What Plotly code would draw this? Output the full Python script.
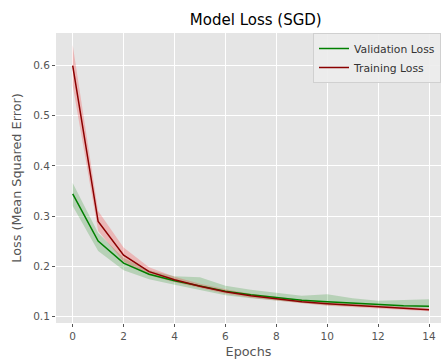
import plotly.graph_objects as go

epochs = list(range(15))
val_loss = [0.344, 0.250, 0.206, 0.184, 0.171, 0.161, 0.150, 0.143, 0.137, 0.132, 0.129, 0.126, 0.123, 0.121, 0.120]
val_upper = [0.366, 0.266, 0.216, 0.192, 0.180, 0.178, 0.161, 0.153, 0.147, 0.141, 0.144, 0.136, 0.131, 0.133, 0.134]
val_lower = [0.320, 0.230, 0.192, 0.174, 0.163, 0.153, 0.142, 0.136, 0.131, 0.126, 0.122, 0.120, 0.118, 0.117, 0.116]
train_loss = [0.600, 0.289, 0.222, 0.189, 0.173, 0.160, 0.149, 0.141, 0.135, 0.129, 0.125, 0.122, 0.119, 0.116, 0.113]
train_upper = [0.641, 0.310, 0.237, 0.198, 0.179, 0.165, 0.154, 0.145, 0.139, 0.133, 0.129, 0.125, 0.122, 0.119, 0.116]
train_lower = [0.560, 0.270, 0.209, 0.182, 0.168, 0.156, 0.145, 0.137, 0.131, 0.126, 0.121, 0.118, 0.116, 0.113, 0.110]

font = "DejaVu Sans"
fig = go.Figure()

def band(lower, upper, color):
    fig.add_trace(go.Scatter(x=epochs, y=lower, mode="lines", line=dict(width=0),
                             showlegend=False, hoverinfo="skip"))
    fig.add_trace(go.Scatter(x=epochs, y=upper, mode="lines", line=dict(width=0),
                             fill="tonexty", fillcolor=color, showlegend=False, hoverinfo="skip"))

band(val_lower, val_upper, "rgba(0,128,0,0.2)")
band(train_lower, train_upper, "rgba(255,0,0,0.2)")
fig.add_trace(go.Scatter(x=epochs, y=val_loss, mode="lines", name="Validation Loss",
                         line=dict(color="#008000", width=1.5)))
fig.add_trace(go.Scatter(x=epochs, y=train_loss, mode="lines", name="Training Loss",
                         line=dict(color="#8B0000", width=1.5)))

fig.update_layout(
    width=441, height=361,
    margin=dict(l=56, r=0, t=33, b=38),
    paper_bgcolor="white", plot_bgcolor="#E5E5E5",
    font=dict(family=font, color="#555555", size=10.5),
    title=dict(text="Model Loss (SGD)", x=0.58, xanchor="center", y=1 - 20/361, yanchor="middle",
               font=dict(size=15, color="black", family=font)),
    legend=dict(x=1, xanchor="right", y=1, yanchor="top", bgcolor="rgba(236,236,236,0.9)",
                bordercolor="#D0D0D0", borderwidth=1, font=dict(size=10.8, color="#333333"),
                traceorder="normal", itemwidth=30),
    showlegend=True,
)
fig.update_xaxes(range=[-0.656, 14.47], tickvals=list(range(0, 15, 2)), showgrid=True,
                 gridcolor="white", gridwidth=1, zeroline=False, ticks="outside", ticklen=3,
                 tickcolor="#555555", title=dict(text="Epochs", font=dict(size=12.8, color="#555555"), standoff=6))
fig.update_yaxes(range=[0.0866, 0.665], tickvals=[0.1, 0.2, 0.3, 0.4, 0.5, 0.6], showgrid=True,
                 gridcolor="white", gridwidth=1, zeroline=False, ticks="outside", ticklen=3,
                 tickcolor="#555555", tickformat=".1f",
                 title=dict(text="Loss (Mean Squared Error)", font=dict(size=12.8, color="#555555"), standoff=8))

fig.write_html("out.html")
